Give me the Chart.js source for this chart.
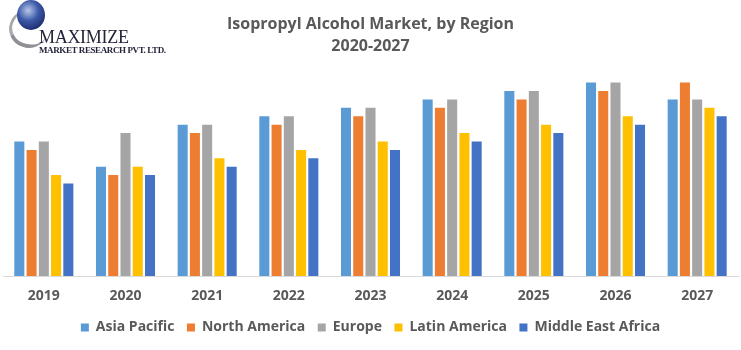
<!DOCTYPE html>
<html>
<head>
<meta charset="utf-8">
<script src="https://cdn.jsdelivr.net/npm/chart.js@4/dist/chart.umd.min.js"></script>
<style>
  body { margin: 0; background: #fff; }
  #wrap { position: relative; width: 741px; height: 350px; }
  #logo { position: absolute; left: 0; top: 0; width: 170px; height: 60px; pointer-events: none; white-space: nowrap; }
  .globe { position: absolute; left: 17px; top: 0px; width: 28px; height: 30px; border-radius: 50%;
           background: radial-gradient(circle at 40% 35%, #b8c8ea 0%, #3d5aa8 40%, #1b2a6b 80%, #0e1642 100%); }
  .swoosh { position: absolute; left: 9px; top: 10px; width: 36px; height: 34px; border-radius: 50%;
            border-bottom: 4px solid #8f8f95; border-left: 3px solid #a8a8ad; border-top: 0; border-right: 0;
            transform: rotate(20deg); }
  .big { position: absolute; left: 39px; top: 27px; font: 18px "Liberation Serif", serif; color: #24243a; letter-spacing: -0.3px; }
  .small { position: absolute; left: 39px; top: 45px; font: bold 9px "Liberation Serif", serif; color: #24243a; letter-spacing: -0.4px; }
</style>
</head>
<body>
<div id="wrap">
  <canvas id="chart" width="741" height="350"></canvas>
  <div id="logo">
    <div class="swoosh"></div>
    <div class="globe"></div>
    <div class="big">MAXIMIZE</div>
    <div class="small">MARKET RESEARCH PVT. LTD.</div>
  </div>
</div>
<script>
// years on the x axis
var years = ["2019", "2020", "2021", "2022", "2023", "2024", "2025", "2026", "2027"];

// market size per region (relative units)
var asiaPacific      = [16, 13, 18, 19, 20, 21, 22, 23, 21];
var northAmerica     = [15, 12, 17, 18, 19, 20, 21, 22, 23];
var europe           = [16, 17, 18, 19, 20, 21, 22, 23, 21];
var latinAmerica     = [12, 13, 14, 15, 16, 17, 18, 19, 20];
var middleEastAfrica = [11, 12, 13, 14, 15, 16, 17, 18, 19];

var textColor = "#595959";
var ctx = document.getElementById("chart").getContext("2d");

var regionChart = new Chart(ctx, {
    type: 'bar',
    data: {
        labels: years,
        datasets: [
            { label: "Asia Pacific", backgroundColor: '#5B9BD5', data: asiaPacific },
            { label: "North America", backgroundColor: '#ED7D31', data: northAmerica },
            { label: "Europe", backgroundColor: '#A5A5A5', data: europe },
            { label: "Latin America", backgroundColor: '#FFC000', data: latinAmerica },
            { label: "Middle East Africa", backgroundColor: '#4472C4', data: middleEastAfrica }
        ]
    },
    options: {
        responsive: false,
        animation: false,
        layout: { padding: { left: 3, right: 3, bottom: 5.5 } },
        datasets: { bar: { categoryPercentage: 0.75, barPercentage: 0.82 } },
        plugins: {
            title: {
                display: true,
                text: ["Isopropyl Alcohol Market, by Region", "2020-2027"],
                color: textColor,
                font: { family: "'Open Sans'", size: 16, weight: 'bold', lineHeight: 1.4 },
                padding: { top: 13, bottom: 8 }
            },
            legend: {
                position: 'bottom',
                labels: {
                    color: textColor,
                    font: { family: "'Open Sans'", size: 14, weight: 'bold' },
                    boxWidth: 8,
                    boxHeight: 8,
                    padding: 12.5
                }
            },
            tooltip: { enabled: false }
        },
        scales: {
            x: {
                grid: { display: false },
                border: { color: '#d9d9d9', width: 1 },
                ticks: {
                    color: textColor,
                    font: { family: "'Open Sans'", size: 14, weight: 'bold' },
                    padding: 3.6
                }
            },
            y: {
                display: false,
                min: 0,
                max: 25
            }
        }
    }
});
</script>
</body>
</html>
